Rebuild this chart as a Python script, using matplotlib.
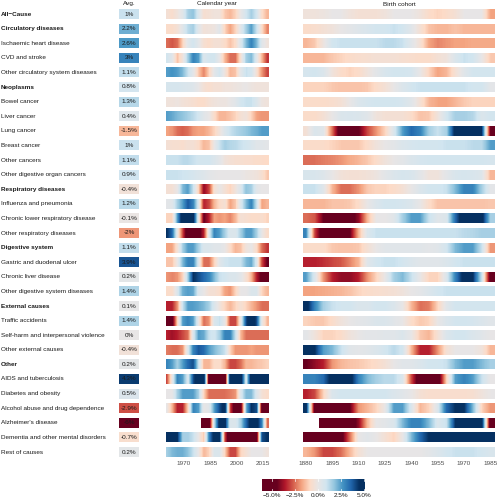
import numpy as np
import matplotlib
matplotlib.use("Agg")
import matplotlib.pyplot as plt
from matplotlib import transforms
from matplotlib.colors import Normalize, LinearSegmentedColormap

plt.rcParams['font.family'] = ['Liberation Sans', 'DejaVu Sans']

nan = np.nan

causes = ["All\u2212Cause", "Circulatory diseases", "Ischaemic heart disease", "CVD and stroke",
          "Other circulatory system diseases", "Neoplasms", "Bowel cancer", "Liver cancer",
          "Lung cancer", "Breast cancer", "Other cancers", "Other digestive organ cancers",
          "Respiratory diseases", "Influenza and pneumonia", "Chronic lower respiratory disease",
          "Other respiratory diseases", "Digestive system", "Gastric and duodenal ulcer",
          "Chronic liver disease", "Other digestive system diseases", "External causes",
          "Traffic accidents", "Self-harm and interpersonal violence", "Other external causes",
          "Other", "AIDS and tuberculosis", "Diabetes and obesity",
          "Alcohol abuse and drug dependence", "Alzheimer's disease",
          "Dementia and other mental disorders", "Rest of causes"]
group_rows = ["All\u2212Cause", "Circulatory diseases", "Neoplasms", "Respiratory diseases",
              "Digestive system", "External causes", "Other"]
avg = [1, 2.2, 2.6, 3, 1.1, 0.8, 1.3, 0.4, -1.5, 1, 1.1, 0.9, -0.4, 1.2, -0.1, -2, 1.1, 3.9,
       0.2, 1.4, 0.1, 1.4, 0, -0.4, 0.2, 4.3, 0.5, -2.9, -6, -0.7, 0.2]

cal_years = [1960, 1963, 1966, 1969, 1972, 1975, 1978, 1981, 1984, 1987, 1990, 1993, 1996,
             1999, 2002, 2005, 2008, 2011, 2014, 2017]
cal_ticks = [1970, 1985, 2000, 2015]
coh_years = [1880, 1885, 1890, 1895, 1900, 1905, 1910, 1915, 1920, 1925, 1930, 1935, 1940,
             1945, 1950, 1955, 1960, 1965, 1970, 1975, 1980, 1985]
coh_ticks = [1880, 1895, 1910, 1925, 1940, 1955, 1970, 1985]
cbar_ticks = [-5, -2.5, 0, 2.5, 5]

# Calendar-year values (% change)
cal_all_cause = [-0.5,-0.7,-0.3,0.3,1.5,1.8,0.5,-0.6,-0.5,-0.3,-0.3,-1.2,-1.5,-1.0,0.0,0.8,1.5,0.8,-0.8,-1.5]
cal_circulatory = [-0.8,-0.8,-0.5,0.3,1.2,1.5,0.3,-0.4,-0.3,-0.2,0.3,-1.0,-1.8,-1.0,0.3,1.5,2.5,1.0,-0.8,-2.2]
cal_ischaemic = [-2.5,-2.8,-2.5,-1.0,0.3,0.8,0.2,-0.6,-0.8,-0.5,-0.5,-0.8,-1.3,-0.8,0.5,2.0,3.0,2.0,0.3,-0.3]
cal_cvd = [0.8,0.3,-1.3,-0.3,1.5,3.0,2.5,0.5,0.8,0.8,0.0,-1.5,-2.5,-2.5,-0.5,1.5,2.0,0.3,-1.5,-3.2]
cal_other_circ = [2.5,2.7,2.5,2.0,1.0,0.2,-1.2,-2.2,-1.0,0.2,0.8,-0.3,-1.5,-1.3,0.2,1.0,0.8,-0.5,-2.0,-3.0]
cal_neoplasms = [0.7,0.7,0.7,0.6,0.5,0.4,0.0,-0.5,-0.7,-0.5,-0.5,-0.3,-0.3,-0.2,-0.1,0.0,-0.2,-0.3,-0.3,-0.3]
cal_bowel = [-0.3,-0.3,-0.2,-0.4,-0.5,-0.6,-0.8,-0.8,-0.5,-0.3,-0.2,-0.2,0.0,0.3,0.8,1.0,1.0,0.5,-0.2,-0.3]
cal_liver = [2.5,2.3,2.0,1.8,1.5,1.2,0.8,0.3,0.0,-0.8,-1.5,-1.5,-1.3,-1.0,-0.5,-0.3,-1.0,-1.8,-2.0,-2.0]
cal_lung = [-1.8,-2.0,-2.5,-2.7,-2.5,-2.0,-1.8,-1.8,-1.5,-1.0,-0.3,0.5,1.0,1.3,1.5,1.7,2.0,2.2,2.5,2.5]
cal_breast = [-0.5,-0.6,-0.6,-0.7,-0.5,-0.5,-0.8,-1.5,-1.3,0.0,1.0,1.5,1.3,1.2,1.0,0.8,0.6,0.3,0.3,0.2]
cal_other_cancers = [1.0,1.0,1.0,1.2,1.2,1.0,0.8,0.8,0.8,0.5,0.2,-0.3,-0.5,-0.6,-0.6,-0.7,-0.7,-0.8,-0.8,-0.9]
cal_other_dig_cancers = [1.0,1.0,1.0,0.9,0.8,0.7,0.5,0.4,0.2,0.1,0.0,0.0,0.0,0.0,0.0,-0.1,-0.2,-0.3,-0.6,-1.2]
cal_respiratory = [-0.5,-0.5,0.0,2.0,2.5,1.0,-1.0,-4.0,-3.0,-0.5,0.0,-0.5,-1.0,-0.3,0.5,1.8,1.5,0.3,0.0,0.0]
cal_influenza = [0.2,0.3,1.5,2.5,3.8,3.0,0.5,-3.5,-3.0,-1.5,-0.8,-0.5,-1.8,-1.2,0.5,2.0,3.0,1.0,-1.8,-1.5]
cal_clrd = [-1.0,-1.0,2.5,5.5,5.5,5.0,0.0,-4.5,-3.5,-1.8,-2.0,-1.8,-2.2,-1.5,-0.5,-0.6,-0.8,-0.8,-0.7,-1.0]
cal_other_resp = [4.5,3.5,0.0,-3.0,-5.5,-5.5,-5.0,-3.5,0.5,3.0,2.5,1.5,0.5,0.5,1.5,2.5,2.5,1.5,0.0,-0.8]
cal_digestive = [-1.8,-1.8,-0.5,1.5,2.5,2.5,1.5,0.5,0.5,0.3,0.3,0.0,-0.8,-1.5,-1.3,-0.3,0.0,-0.8,-2.5,-3.2]
cal_gastric = [-1.3,-1.3,0.0,2.0,3.0,3.0,0.5,-2.5,-2.5,-1.0,0.3,0.8,1.0,1.0,1.0,2.0,2.3,0.5,-3.0,-4.5]
cal_chronic_liver = [-2.0,-2.2,-2.0,-1.0,1.5,4.5,4.0,3.5,3.0,2.0,1.0,0.8,0.5,0.5,0.2,-0.5,-1.5,-3.5,-4.8,-5.0]
cal_other_dig = [-0.8,-0.8,0.5,2.2,2.5,2.3,0.5,0.0,-0.5,-0.5,-0.8,-1.8,-2.0,-1.0,0.0,0.0,0.5,0.5,-1.0,-1.5]
cal_external = [-3.5,-3.5,-2.0,1.0,2.5,2.5,2.3,2.0,1.5,0.5,-0.3,-1.0,-1.5,-1.0,-0.5,-1.0,-1.5,-2.0,-2.5,-2.5]
cal_traffic = [-5.5,-5.0,-1.0,2.5,3.0,2.5,0.0,-2.5,-2.0,0.5,1.0,0.0,-3.0,-3.0,0.0,4.0,5.5,4.0,0.0,-1.5]
cal_self_harm = [-3.5,-3.8,-3.5,-3.0,-2.5,0.5,2.5,2.3,1.0,0.8,1.5,3.0,3.0,1.0,-1.5,-2.5,-2.5,-2.5,-2.5,-2.5]
cal_other_external = [-2.3,-2.5,-2.5,-2.0,0.5,3.0,3.8,3.5,2.5,2.0,1.5,1.0,-1.0,-2.0,-2.0,-2.0,-1.8,-2.0,-2.0,-2.0]
cal_other = [3.0,2.5,1.5,2.5,3.5,4.0,1.0,-1.5,-1.5,-0.8,-0.8,-1.5,-3.0,-3.0,-2.5,-1.5,-1.5,-1.3,-1.2,-1.0]
cal_aids = [-3.0,0.0,3.0,2.5,0.5,4.0,5.5,5.5,-5.5,-6.0,-6.0,-5.5,5.5,5.5,5.5,0.5,5.5,5.5,5.5,5.0]
cal_diabetes = [0.0,0.0,1.5,2.5,2.5,2.5,1.5,-1.0,-2.5,-2.5,-2.5,-2.5,-2.3,-2.0,0.5,2.0,2.0,0.5,-0.5,-0.8]
cal_alcohol = [0.0,-1.5,-3.5,-3.5,-1.0,3.0,2.5,0.0,0.3,2.5,4.0,5.0,-3.0,-5.5,-5.0,2.0,4.5,4.0,-5.0,-5.0]
cal_alzheimer = [nan,nan,nan,nan,nan,nan,nan,-5.5,-5.5,1.0,5.0,5.0,0.5,0.5,1.5,3.5,5.0,5.0,3.0,-2.5]
cal_dementia = [5.5,5.5,4.5,1.5,1.5,1.0,0.0,-1.2,3.0,5.0,4.5,-3.0,-6.0,-6.0,-6.0,-6.0,-6.0,-5.0,4.0,4.5]
cal_rest = [1.5,2.0,2.2,2.2,1.8,1.0,0.0,-1.5,-1.0,0.5,0.5,-1.0,-3.0,-3.0,-1.0,-0.5,0.0,0.0,0.0,-0.3]

# Birth-cohort values (% change)
coh_all_cause = [-0.3,-0.3,-0.2,0.0,0.0,-0.3,-0.5,-0.5,-0.5,-0.3,0.0,0.0,0.0,-0.3,-0.8,-1.0,-0.8,-0.5,0.0,0.0,0.0,-1.8]
coh_circulatory = [-0.8,-0.7,-0.5,-0.3,0.0,0.2,0.4,0.6,0.8,0.8,1.0,0.8,0.3,-0.5,-1.3,-1.5,-1.5,-1.3,-1.5,-1.5,-1.5,-1.5]
coh_ischaemic = [-1.5,-1.2,-0.2,0.8,1.0,1.0,1.0,1.0,1.0,1.2,1.2,1.0,0.3,-0.5,-1.8,-2.2,-2.0,-1.8,-1.8,-1.7,-1.7,-1.7]
coh_cvd = [-1.5,-1.5,-1.5,-1.2,-1.0,-0.8,-0.7,-0.6,-0.5,-0.5,-0.5,-0.6,-0.7,-0.8,-0.8,-0.5,-0.3,0.5,1.0,0.8,0.0,-1.2]
coh_other_circ = [0.7,0.8,0.5,-0.3,-0.8,-1.0,-0.8,-0.3,0.2,0.6,0.8,0.8,0.7,0.0,-1.0,-1.8,-1.5,-0.5,0.3,0.8,0.8,0.8]
coh_neoplasms = [-1.0,-1.0,-1.0,-1.2,-1.3,-1.3,-1.3,-1.2,-0.8,-0.5,0.0,0.5,0.8,1.0,1.0,1.0,1.0,1.0,1.0,0.8,0.8,0.2]
coh_bowel = [-0.8,-0.8,-0.8,-0.7,-0.5,0.0,0.5,0.7,0.8,0.8,0.8,0.7,0.3,-0.5,-1.5,-1.8,-1.8,-1.5,-1.2,-1.0,-1.0,-1.0]
coh_liver = [-0.8,-0.8,-0.5,0.0,0.5,0.6,0.5,0.3,-0.3,-0.5,-0.5,-0.5,-0.8,-1.3,-1.2,-0.3,0.8,1.5,1.5,1.3,0.5,0.8]
coh_lung = [-0.5,0.5,0.3,-2.5,-5.5,-5.5,-4.5,-3.0,-2.0,-1.0,0.5,2.5,3.5,3.0,1.5,1.0,1.5,5.0,5.5,5.5,4.5,-4.5]
coh_breast = [-0.8,-0.8,-0.8,-1.0,-1.2,-1.2,-1.2,-0.8,-0.3,0.0,0.2,0.5,0.7,0.8,0.8,0.8,1.0,1.0,1.0,1.2,1.2,2.5]
coh_other_cancers = [-2.5,-2.5,-2.3,-2.2,-2.0,-1.7,-1.5,-1.2,-0.8,-0.3,0.0,0.2,0.5,0.7,0.8,0.8,0.8,0.8,0.8,0.8,0.8,0.7]
coh_other_dig_cancers = [0.6,0.6,0.4,0.0,-0.4,-0.5,-0.5,-0.4,-0.2,0.2,0.5,0.7,0.6,0.2,-0.3,-0.3,0.2,0.6,0.7,0.6,0.4,-1.5]
coh_respiratory = [1.0,1.0,0.3,-1.5,-2.5,-2.5,-2.0,-1.2,-1.0,-1.0,-0.8,-0.5,0.0,0.5,0.8,0.8,1.0,2.0,3.0,3.0,1.5,0.2]
coh_influenza = [-1.5,-1.5,-1.5,-1.3,-1.3,-1.2,-0.8,0.0,0.5,0.8,0.8,0.7,0.5,0.0,-0.8,-1.3,-1.3,-1.3,-1.3,-1.3,-1.3,-1.2]
coh_clrd = [-2.5,-2.8,-4.5,-5.5,-5.5,-5.0,-4.0,-1.5,0.0,0.0,0.3,1.5,2.5,2.5,1.0,0.3,0.5,3.5,5.5,5.5,5.0,1.5]
coh_other_resp = [3.0,-3.0,-5.5,-5.5,-5.5,-4.5,-1.5,0.5,1.0,1.0,1.0,1.0,1.0,1.0,1.0,1.0,1.0,1.0,1.2,1.3,1.5,1.5]
coh_digestive = [-0.8,-0.8,-0.8,-1.2,-1.3,-1.3,-1.2,-0.5,0.0,0.3,0.3,0.3,0.3,0.3,0.2,0.3,0.8,2.0,2.5,2.5,1.0,-2.0]
coh_gastric = [-3.5,-3.5,-3.3,-3.0,-2.8,-2.2,-1.5,0.3,0.8,1.0,1.0,0.8,0.5,0.3,0.3,0.3,0.5,0.8,1.0,1.0,1.0,1.0]
coh_chronic_liver = [2.5,0.5,-2.0,-3.5,-4.0,-4.0,-3.5,-2.0,-1.0,0.0,1.5,2.0,1.0,0.0,-1.0,-1.0,0.5,3.0,5.0,4.5,1.0,-5.0]
coh_other_dig = [-1.8,-1.8,-1.7,-1.6,-1.5,-1.3,-1.0,-0.8,-0.7,-0.6,-0.5,-0.3,0.0,0.2,0.5,0.8,1.0,1.0,1.0,1.0,1.0,1.0]
coh_external = [5.0,3.0,1.5,1.0,0.8,0.8,0.5,0.5,0.8,0.8,0.5,0.0,-1.5,-2.5,-2.3,-1.0,0.3,0.8,0.8,0.8,0.8,0.8]
coh_traffic = [-1.0,-1.2,-1.2,-0.8,-0.3,0.0,0.2,0.3,0.5,0.5,0.3,0.0,-0.8,-1.2,-1.0,0.0,0.5,0.8,0.8,0.7,0.5,0.3]
coh_self_harm = [0.2,-0.3,-1.0,-1.0,-0.8,-0.3,0.0,0.2,0.2,0.3,0.3,0.5,0.0,-1.2,-1.5,-0.5,0.5,0.8,0.8,0.5,0.3,0.0]
coh_other_external = [5.5,4.5,2.5,2.0,1.0,0.3,0.2,0.3,0.5,0.8,1.2,0.8,-1.5,-3.5,-3.5,-2.0,-0.5,0.0,0.0,0.0,-0.3,-1.5]
coh_other = [-4.5,-4.0,-3.5,-2.0,-1.5,-1.3,-1.2,-1.0,-0.8,-0.5,0.0,0.3,0.3,0.5,0.8,0.8,1.0,2.0,2.5,2.5,2.0,1.5]
coh_aids = [3.0,3.0,3.5,5.0,5.5,5.0,3.0,2.0,1.5,1.2,1.2,0.5,-3.0,-5.5,-6.0,-5.5,-1.0,2.5,3.0,2.5,1.0,0.0]
coh_diabetes = [-3.5,-3.0,-1.0,0.5,0.8,0.8,0.8,0.8,0.8,0.8,0.5,0.3,0.0,-0.5,-0.7,-0.7,-0.7,-0.7,-0.7,-0.6,-0.3,0.0]
coh_alcohol = [5.0,-5.0,-5.5,-5.5,-5.5,-4.5,-2.0,-1.5,-1.0,0.0,2.5,2.5,0.5,-1.5,-1.0,0.5,3.5,4.5,4.5,2.0,-1.0,-2.0]
coh_alzheimer = [nan,nan,-5.5,-5.5,-5.5,-5.5,-4.0,-1.5,0.0,0.2,0.5,2.0,3.0,3.0,2.0,0.5,1.0,4.5,5.5,5.5,5.0,-5.5]
coh_dementia = [-5.5,-5.5,-5.5,-5.5,-5.0,-2.5,0.0,0.3,0.0,-0.5,-1.0,0.0,2.0,3.5,4.5,4.5,4.5,4.5,4.5,4.5,4.5,4.5]
coh_rest = [-1.5,-2.0,-3.0,-3.0,-2.5,-1.5,-0.5,0.0,0.0,0.0,0.0,0.0,0.0,0.0,0.2,0.5,0.8,1.0,1.0,1.0,0.8,0.6]

cal_rows = [cal_all_cause, cal_circulatory, cal_ischaemic, cal_cvd, cal_other_circ, cal_neoplasms,
            cal_bowel, cal_liver, cal_lung, cal_breast, cal_other_cancers, cal_other_dig_cancers,
            cal_respiratory, cal_influenza, cal_clrd, cal_other_resp, cal_digestive, cal_gastric,
            cal_chronic_liver, cal_other_dig, cal_external, cal_traffic, cal_self_harm,
            cal_other_external, cal_other, cal_aids, cal_diabetes, cal_alcohol, cal_alzheimer,
            cal_dementia, cal_rest]
coh_rows = [coh_all_cause, coh_circulatory, coh_ischaemic, coh_cvd, coh_other_circ, coh_neoplasms,
            coh_bowel, coh_liver, coh_lung, coh_breast, coh_other_cancers, coh_other_dig_cancers,
            coh_respiratory, coh_influenza, coh_clrd, coh_other_resp, coh_digestive, coh_gastric,
            coh_chronic_liver, coh_other_dig, coh_external, coh_traffic, coh_self_harm,
            coh_other_external, coh_other, coh_aids, coh_diabetes, coh_alcohol, coh_alzheimer,
            coh_dementia, coh_rest]

W, H = 499, 500
fig = plt.figure(figsize=(W / 100, H / 100), dpi=100)
fig.patch.set_facecolor('white')


def ax_at(x0, x1, ytop, ybot):
    return fig.add_axes([x0 / W, 1 - ybot / H, (x1 - x0) / W, (ybot - ytop) / H])


palette = ['#67001f', '#b2182b', '#d6604d', '#f4a582', '#fddbc7', '#e8e6e6',
           '#d1e5f0', '#92c5de', '#4393c3', '#2166ac', '#053061']
cmap = LinearSegmentedColormap.from_list('rdbu_grey', palette)
norm = Normalize(-4.5, 4.5, clip=True)
n = len(causes)
half = 0.34
FS = 4.6
TXT = '#1a1a1a'
TICK = '#4d4d4d'

ytop, ybot = 6.7, 459.3
ax_avg = ax_at(119, 139, ytop, ybot)
ax_cal = ax_at(165.5, 268, ytop, ybot)
ax_coh = ax_at(303, 495, ytop, ybot)


def draw_row(ax, years, vals, i, step):
    v = np.asarray(vals, float)
    yrs = np.asarray(years, float)
    ok = ~np.isnan(v)
    v, yrs = v[ok], yrs[ok]
    ax.imshow(v[None, :], cmap=cmap, norm=norm, aspect='auto', interpolation='bilinear',
              interpolation_stage='data',
              extent=(yrs[0] - step / 2, yrs[-1] + step / 2, i + half, i - half))


for i in range(n):
    draw_row(ax_cal, cal_years, cal_rows[i], i, 3)
    draw_row(ax_coh, coh_years, coh_rows[i], i, 5)

ax_cal.set_xlim(1959.5, 2018.0)
ax_coh.set_xlim(1878.3, 1987.6)
for ax, ticks in ((ax_cal, cal_ticks), (ax_coh, coh_ticks)):
    ax.set_ylim(n - 0.5, -0.5)
    ax.set_xticks(ticks)
    ax.set_xticklabels([str(t) for t in ticks])
    ax.set_yticks([])
    ax.tick_params(axis='x', length=0, labelsize=FS, colors=TICK, pad=1.2)
    for s in ax.spines.values():
        s.set_visible(False)
    ax.set_facecolor('none')

# Average column
ax_avg.barh(range(n), [1] * n, left=0, height=2 * half, color=[cmap(norm(a)) for a in avg])
for i, a in enumerate(avg):
    ax_avg.text(0.5, i, f"{a:g}%", ha='center', va='center', fontsize=FS, color=TXT)
ax_avg.set_xlim(0, 1)
ax_avg.set_ylim(n - 0.5, -0.5)
ax_avg.axis('off')

# Row labels
tr = transforms.blended_transform_factory(fig.transFigure, ax_avg.transData)
for i, c in enumerate(causes):
    ax_avg.text(1 / W, i, c, transform=tr, ha='left', va='center', fontsize=FS, color=TXT,
                fontweight='bold' if c in group_rows else 'normal', clip_on=False)

# Column titles
for x, t in ((129, "Avg."), (217, "Calendar year"), (399, "Birth cohort")):
    fig.text(x / W, 1 - 4 / H, t, ha='center', va='center', fontsize=FS, color=TXT)

# Colour bar
ax_cb = ax_at(262, 365, 479, 491)
grad = np.linspace(-6.1, 5.1, 400)
ax_cb.imshow(grad[None, :], cmap=cmap, norm=norm, aspect='auto', extent=(-6.1, 5.1, 0, 1))
for t in cbar_ticks:
    ax_cb.plot([t, t], [0, 0.2], color='white', lw=0.5)
    ax_cb.plot([t, t], [0.8, 1], color='white', lw=0.5)
ax_cb.set_xlim(-6.1, 5.1)
ax_cb.set_ylim(0, 1)
ax_cb.set_xticks(cbar_ticks)
ax_cb.set_xticklabels([f"{t:.1f}%".replace('-', '\u2212') for t in cbar_ticks])
ax_cb.set_yticks([])
ax_cb.tick_params(axis='x', length=0, labelsize=FS, colors=TXT, pad=1.5)
for s in ax_cb.spines.values():
    s.set_visible(False)

fig.savefig('out.png', dpi=100, facecolor='white')
